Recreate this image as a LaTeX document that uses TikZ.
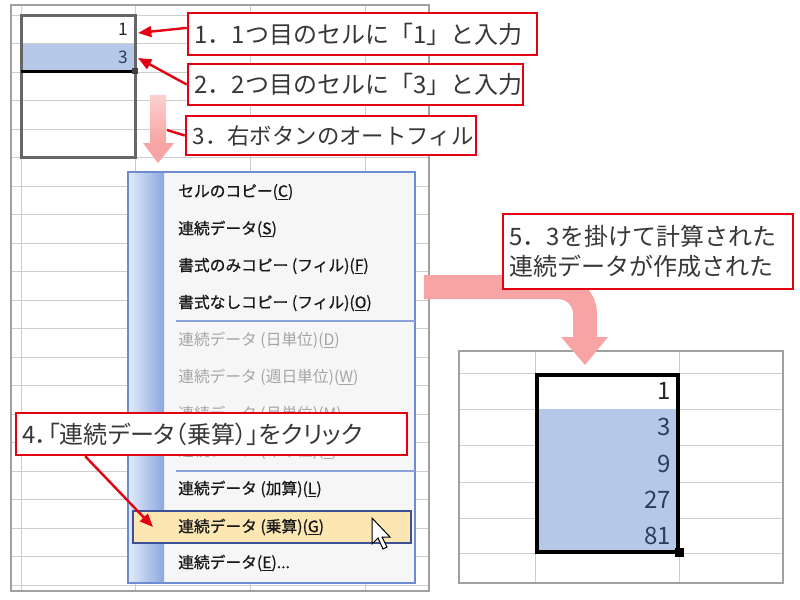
\documentclass[tikz,border=0pt]{standalone}
\usepackage{fontspec}
\newfontfamily\jp{Noto Sans CJK JP}
\newfontfamily\jpp[RawFeature=+palt]{Noto Sans CJK JP}
\newfontfamily\jpm[FakeBold=0.8]{Noto Sans CJK JP}
\usetikzlibrary{arrows.meta,calc}
\definecolor{redc}{RGB}{228,0,18}
\definecolor{pinkc}{RGB}{248,164,164}
\definecolor{pinklt}{RGB}{252,208,208}
\definecolor{gridc}{RGB}{205,205,205}
\definecolor{sheetb}{RGB}{160,160,160}
\definecolor{selblue}{RGB}{182,200,232}
\definecolor{numblue}{RGB}{45,60,95}
\definecolor{menubg}{RGB}{246,246,246}
\definecolor{menuborder}{RGB}{110,140,210}
\definecolor{sidel}{RGB}{226,235,250}
\definecolor{sider}{RGB}{140,168,222}
\definecolor{hlfill}{RGB}{252,230,178}
\definecolor{hlborder}{RGB}{60,80,150}
\definecolor{disabled}{RGB}{165,165,165}
\definecolor{txt}{RGB}{55,55,55}
\tikzset{
 callout/.style={draw=redc, line width=1.9pt, fill=white, text=txt,
   font=\jp\fontsize{18}{23}\selectfont, inner xsep=5pt, inner ysep=0pt,
   align=left, anchor=center},
 redarrow/.style={draw=redc, line width=1.8pt, -{Triangle[length=10pt,width=8pt]}},
 redline/.style={draw=redc, line width=1.8pt},
 gridline/.style={draw=gridc, line width=0.75pt},
 menuitem/.style={anchor=west, inner sep=0pt, font=\jpm\fontsize{11.8}{12}\selectfont, text=black!90},
 menudis/.style={menuitem, font=\jp\fontsize{11.8}{12}\selectfont, text=disabled},
 cellnum/.style={anchor=east, inner sep=0pt, font=\jp\fontsize{13}{13}\selectfont},
 bignum/.style={anchor=east, inner sep=0pt, font=\jp\fontsize{18}{18}\selectfont, text=numblue},
}
\begin{document}
\begin{tikzpicture}[x=0.75pt,y=-0.75pt]
\useasboundingbox[fill=white] (0,0) rectangle (800,600);
% ---------- left sheet ----------
\foreach \k in {0,...,20} \draw[gridline] (11,15+28.5*\k) -- (429,15+28.5*\k);
\foreach \x in {21,135,250,365} \draw[gridline] (\x,5) -- (\x,591);
\draw[sheetb, line width=1.2pt] (11,5) rectangle (429,591);
\fill[selblue] (22,43.5) rectangle (134,71);
\draw[black!60, line width=2.25pt] (21,15) rectangle (135,157.5);
\draw[black, line width=2.25pt] (21,71) -- (135,71);
\fill[black!75] (132,68) rectangle (138,74);
\node[cellnum, text=black!85] (n1) at (128,29) {1};
\node[cellnum, text=numblue] (n3) at (128,57) {3};
% ---------- menu ----------
\fill[menubg] (128,172) rectangle (415,583);
\shade[left color=sidel, right color=sider] (128,172) rectangle (164,583);
\draw[menuborder, line width=1.1pt] (128,172) rectangle (415,583);
\draw[menuborder!80, line width=0.8pt] (176,321) -- (415,321);
\draw[menuborder!80, line width=0.8pt] (176,471) -- (415,471);
\draw[hlborder, fill=hlfill, line width=1.1pt] (133,511) rectangle (411,543);
\node[menuitem] (m1) at (178,192) {セルのコピー(\underline{C})};
\node[menuitem] (m2) at (178,229) {連続データ(\underline{S})};
\node[menuitem] (m3) at (178,266) {書式のみコピー (フィル)(\underline{F})};
\node[menuitem] (m4) at (178,303) {書式なしコピー (フィル)(\underline{O})};
\node[menudis] (m5) at (178,340) {連続データ (日単位)(\underline{D})};
\node[menudis] (m6) at (178,377) {連続データ (週日単位)(\underline{W})};
\node[menudis] (m7) at (178,414) {連続データ (月単位)(\underline{M})};
\node[menudis] (m8) at (178,451) {連続データ (年単位)(\underline{Y})};
\node[menuitem] (m9) at (178,489) {連続データ (加算)(\underline{L})};
\node[menuitem] (m10) at (178,527) {連続データ (乗算)(\underline{G})};
\node[menuitem] (m11) at (178,563) {連続データ(\underline{E})...};
% ---------- pink down arrow ----------
\shade[top color=pinklt, bottom color=pinkc] (150,95) rectangle (166,143);
\fill[pinkc] (143,143) -- (174,143) -- (158,163) -- cycle;
% ---------- right sheet ----------
\foreach \y in {373,409,445,482,518,553} \draw[gridline] (459,\y) -- (783,\y);
\foreach \x in {535,679} \draw[gridline] (\x,351) -- (\x,583);
\draw[sheetb, line width=0.9pt] (459,351) rectangle (783,583);
\fill[selblue] (539,409) rectangle (676,550);
\draw[black, line width=3pt] (537,375) rectangle (678,552);
\fill[black] (675,548) rectangle (684,557);
\node[bignum, text=black!85] (r1) at (671,391) {1};
\node[bignum] (r2) at (671,427) {3};
\node[bignum] (r3) at (671,463.5) {9};
\node[bignum] (r4) at (671,500) {27};
\node[bignum] (r5) at (671,535.5) {81};
% ---------- pink bent arrow ----------
\draw[pinkc, line width=18pt, rounded corners=20pt] (424,287) -| (585,338);
\fill[pinkc] (561,337) -- (608,337) -- (585,365) -- cycle;
% ---------- callouts ----------
\node[callout, minimum width=261.75pt, minimum height=31.5pt, text width=251.75pt] (b1) at (362.5,34) {1．1つ目のセルに「1」と入力};
\node[callout, minimum width=251.25pt, minimum height=30.75pt, text width=241.25pt] (b2) at (355.5,84.5) {2．2つ目のセルに「3」と入力};
\node[callout, minimum width=217.5pt, minimum height=29.25pt, text width=207.5pt, font=\jp\fontsize{16.8}{20}\selectfont] (b3) at (331,135.5) {3．右ボタンのオートフィル};
\node[callout, minimum width=293.25pt, minimum height=31.5pt, text width=283.25pt, font=\jpp\fontsize{18}{23}\selectfont] (b4) at (211.5,434) {4．「連続データ（乗算）」をクリック};
\node[callout, minimum width=217.5pt, minimum height=56.25pt, text width=207.5pt] (b5) at (648,251.5) {5．3を掛けて計算された\\連続データが作成された};
\coordinate (t1) at (138,33);
\coordinate (t2) at (138,58);
\coordinate (t3) at (167,130);
\coordinate (t4) at (153,527);
\draw[redarrow] (b1.178) -- (t1);
\draw[redarrow] (b2.west) -- (t2);
\draw[redline] (b3.west) -- (t3);
\draw[redarrow] (b4.190) -- (t4);
% ---------- cursor ----------
\draw[black, fill=white, line width=0.75pt, line join=miter] (372,518) -- ++(0,26) -- ++(6,-6) -- ++(5,11) -- ++(4,-2) -- ++(-5,-10) -- ++(8,0) -- cycle;
\end{tikzpicture}
\end{document}
